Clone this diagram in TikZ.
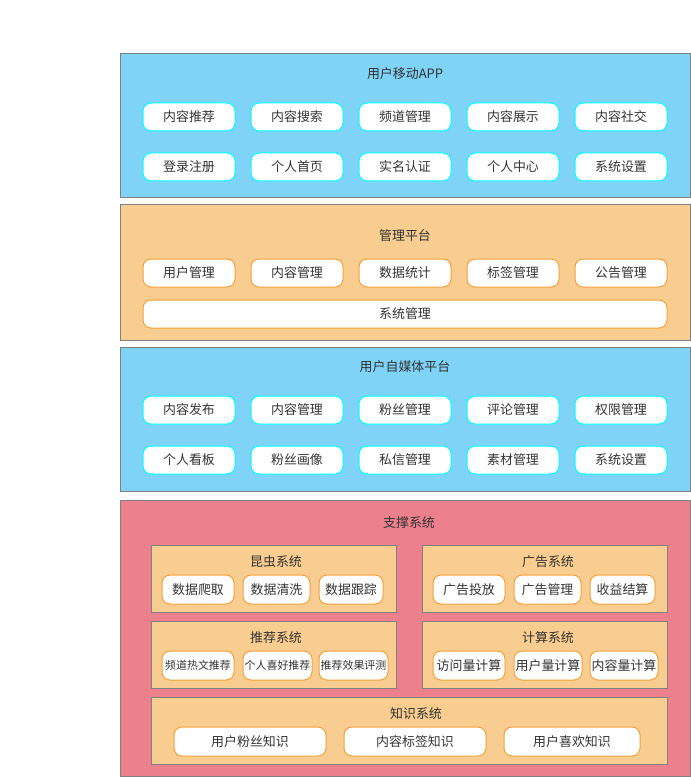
\documentclass[tikz,border=0pt]{standalone}
\usepackage{fontspec}
\newfontfamily\cjk{Noto Sans CJK SC}
\definecolor{bluefill}{HTML}{7FD3F7}
\definecolor{orfill}{HTML}{F9CC8F}
\definecolor{pinkfill}{HTML}{EC808D}
\definecolor{orline}{HTML}{F5A03A}
\definecolor{cyanline}{HTML}{00FFFF}
\definecolor{frameline}{HTML}{808080}
\definecolor{txt}{HTML}{333333}
\newcommand{\bx}[7]{\node[#7, minimum width={(#4-#2)*0.75pt}, minimum height={(#5-#3)*0.75pt}] (#1) at ({(#2+#4)/2},{(#3+#5)/2}) {#6};}
\tikzset{
  base/.style={inner sep=0pt, outer sep=0pt, line width=0.75pt, text=txt, font=\cjk\fontsize{9.7}{11}\selectfont},
  frameblue/.style={base, draw=frameline, fill=bluefill},
  frameor/.style={base, draw=frameline, fill=orfill},
  framepink/.style={base, draw=frameline, fill=pinkfill},
  cbox/.style={base, draw=cyanline, fill=white, rounded corners=6pt},
  obox/.style={base, draw=orline, fill=white, rounded corners=6pt},
  sbox/.style={obox, font=\cjk\fontsize{8.2}{10}\selectfont},
  ttl/.style={base}
}
\begin{document}
\begin{tikzpicture}[x=0.75pt,y=-0.75pt]
\useasboundingbox (0,0) rectangle (691,777);
% frame 1
\bx{f1}{120}{54}{690}{198}{}{frameblue}
\node[ttl] (t1) at (405,74) {用户移动APP};
\bx{a1}{143}{103}{235}{131}{内容推荐}{cbox}
\bx{a2}{251}{103}{343}{131}{内容搜索}{cbox}
\bx{a3}{359}{103}{451}{131}{频道管理}{cbox}
\bx{a4}{467}{103}{559}{131}{内容展示}{cbox}
\bx{a5}{575}{103}{667}{131}{内容社交}{cbox}
\bx{a6}{143}{153}{235}{181}{登录注册}{cbox}
\bx{a7}{251}{153}{343}{181}{个人首页}{cbox}
\bx{a8}{359}{153}{451}{181}{实名认证}{cbox}
\bx{a9}{467}{153}{559}{181}{个人中心}{cbox}
\bx{a10}{575}{153}{667}{181}{系统设置}{cbox}
% frame 2
\bx{f2}{120}{205}{690}{340}{}{frameor}
\node[ttl] (t2) at (405,236) {管理平台};
\bx{b1}{143}{259}{235}{287}{用户管理}{obox}
\bx{b2}{251}{259}{343}{287}{内容管理}{obox}
\bx{b3}{359}{259}{451}{287}{数据统计}{obox}
\bx{b4}{467}{259}{559}{287}{标签管理}{obox}
\bx{b5}{575}{259}{667}{287}{公告管理}{obox}
\bx{b6}{143}{300}{667}{328}{系统管理}{obox}
% frame 3
\bx{f3}{120}{347}{690}{491}{}{frameblue}
\node[ttl] (t3) at (405,367) {用户自媒体平台};
\bx{c1}{143}{396}{235}{424}{内容发布}{cbox}
\bx{c2}{251}{396}{343}{424}{内容管理}{cbox}
\bx{c3}{359}{396}{451}{424}{粉丝管理}{cbox}
\bx{c4}{467}{396}{559}{424}{评论管理}{cbox}
\bx{c5}{575}{396}{667}{424}{权限管理}{cbox}
\bx{c6}{143}{446}{235}{474}{个人看板}{cbox}
\bx{c7}{251}{446}{343}{474}{粉丝画像}{cbox}
\bx{c8}{359}{446}{451}{474}{私信管理}{cbox}
\bx{c9}{467}{446}{559}{474}{素材管理}{cbox}
\bx{c10}{575}{446}{667}{474}{系统设置}{cbox}
% frame 4
\bx{f4}{120}{500}{690}{776}{}{framepink}
\node[ttl] (t4) at (409,523) {支撑系统};
% 昆虫系统
\bx{s1}{151}{545}{396}{612}{}{frameor}
\node[ttl] (s1t) at (276,562) {昆虫系统};
\bx{s1a}{162}{575}{234}{604}{数据爬取}{obox}
\bx{s1b}{243}{575}{310}{604}{数据清洗}{obox}
\bx{s1c}{319}{575}{383}{604}{数据跟踪}{obox}
% 广告系统
\bx{s2}{422}{545}{667}{612}{}{frameor}
\node[ttl] (s2t) at (548,562) {广告系统};
\bx{s2a}{433}{575}{505}{604}{广告投放}{obox}
\bx{s2b}{514}{575}{581}{604}{广告管理}{obox}
\bx{s2c}{590}{575}{655}{604}{收益结算}{obox}
% 推荐系统
\bx{s3}{151}{621}{396}{688}{}{frameor}
\node[ttl] (s3t) at (276,638) {推荐系统};
\bx{s3a}{162}{651}{234}{680}{频道热文推荐}{sbox}
\bx{s3b}{243}{651}{312}{680}{个人喜好推荐}{sbox}
\bx{s3c}{319}{651}{388}{680}{推荐效果评测}{sbox}
% 计算系统
\bx{s4}{422}{621}{667}{688}{}{frameor}
\node[ttl] (s4t) at (548,638) {计算系统};
\bx{s4a}{433}{651}{505}{680}{访问量计算}{obox}
\bx{s4b}{514}{651}{582}{680}{用户量计算}{obox}
\bx{s4c}{590}{651}{658}{680}{内容量计算}{obox}
% 知识系统
\bx{s5}{151}{697}{667}{764}{}{frameor}
\node[ttl] (s5t) at (416,714) {知识系统};
\bx{s5a}{174}{727}{326}{756}{用户粉丝知识}{obox}
\bx{s5b}{344}{727}{486}{756}{内容标签知识}{obox}
\bx{s5c}{504}{727}{640}{756}{用户喜欢知识}{obox}
\end{tikzpicture}
\end{document}
